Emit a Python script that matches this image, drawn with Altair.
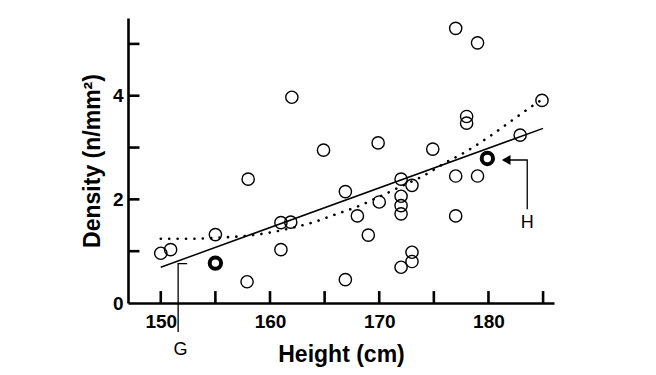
import altair as alt
import pandas as pd

# ---- data ----
heights = [150, 150.9, 155, 157.9, 158, 161, 161, 161.9, 162, 164.9, 166.9, 166.9,
           168, 169, 169.9, 170, 172, 172, 172, 172, 172, 173, 173, 173, 174.9,
           177, 177, 177, 178, 178, 179, 179, 182.9, 184.9]
density = [0.96, 1.03, 1.32, 0.41, 2.39, 1.03, 1.55, 1.56, 3.97, 2.95, 2.15, 0.45,
           1.68, 1.31, 3.09, 1.95, 2.39, 2.06, 1.88, 1.72, 0.69, 2.27, 0.98, 0.80, 2.97,
           5.30, 2.45, 1.68, 3.60, 3.47, 5.02, 2.45, 3.24, 3.91]

bold_x = [155, 179.9]
bold_y = [0.77, 2.79]

linear_x = [150, 185]
linear_y = [0.69, 3.37]

curve_x = [150, 153, 156, 158, 160, 162, 164, 166, 168, 170, 172, 174, 176, 178, 180, 182, 184, 185]
curve_y = [1.24, 1.24, 1.27, 1.30, 1.36, 1.45, 1.56, 1.71, 1.86, 2.05, 2.25, 2.45, 2.70,
           2.93, 3.20, 3.50, 3.80, 3.94]

x_tick_values = [150, 155, 160, 165, 170, 175, 180, 185]
x_tick_labels = [150, 160, 170, 180]
y_tick_values = [1, 2, 3, 4, 5]
y_tick_labels = [0, 2, 4]

g_path_x = [152.42, 151.59, 151.59]
g_path_y = [0.76, 0.76, -0.56]
h_path_x = [181.4, 183.55, 183.55]
h_path_y = [2.76, 2.76, 1.81]
arrow_x = [181.62]
arrow_y = [2.76]
label_text = ["G", "H"]
label_x = [151.81, 183.55]
label_y = [-0.91, 1.55]

FONT = "Liberation Sans"

xscale = alt.Scale(domain=[147, 186], nice=False, zero=False)
yscale = alt.Scale(domain=[0, 5.5], nice=False, zero=False)

xaxis = alt.Axis(values=x_tick_labels, format="d", ticks=False, tickSize=0, grid=False,
                 domainColor="black", domainWidth=2.6, labelFont=FONT, labelFontSize=19,
                 labelFontWeight="bold", labelColor="black", labelPadding=9,
                 title="Height (cm)", titleFont=FONT, titleFontSize=23,
                 titleFontWeight="bold", titleColor="black", titlePadding=12)
yaxis = alt.Axis(values=y_tick_labels, format="d", ticks=False, tickSize=0, grid=False,
                 domainColor="black", domainWidth=2.6, labelFont=FONT, labelFontSize=19,
                 labelFontWeight="bold", labelColor="black", labelPadding=5,
                 title="Density (n/mm²)", titleFont=FONT, titleFontSize=23,
                 titleFontWeight="bold", titleColor="black", titlePadding=8)

X = alt.X("x:Q", scale=xscale, axis=xaxis)
Y = alt.Y("y:Q", scale=yscale, axis=yaxis)

pts = pd.DataFrame({"x": heights, "y": density})
bold = pd.DataFrame({"x": bold_x, "y": bold_y})
lin = pd.DataFrame({"x": linear_x, "y": linear_y})
curve = pd.DataFrame({"x": curve_x, "y": curve_y})
xt = pd.DataFrame({"x": x_tick_values})
yt = pd.DataFrame({"y": y_tick_values})
gpath = pd.DataFrame({"x": g_path_x, "y": g_path_y, "o": [0, 1, 2]})
hpath = pd.DataFrame({"x": h_path_x, "y": h_path_y, "o": [0, 1, 2]})
arrow = pd.DataFrame({"x": arrow_x, "y": arrow_y})
labels = pd.DataFrame({"x": label_x, "y": label_y, "t": label_text})

scatter = alt.Chart(pts).mark_point(shape="circle", filled=False, size=150,
                                    color="black", strokeWidth=1.4, opacity=1).encode(x=X, y=Y)
bold_pts = alt.Chart(bold).mark_point(shape="circle", filled=False, size=130,
                                      color="black", strokeWidth=4, opacity=1).encode(x=X, y=Y)
lin_line = alt.Chart(lin).mark_line(color="black", strokeWidth=1.5).encode(x=X, y=Y)
curve_line = alt.Chart(curve).mark_line(color="black", strokeWidth=2.6, strokeDash=[0.1, 8.3],
                                        strokeCap="round", interpolate="monotone").encode(x=X, y=Y)

xticks = alt.Chart(xt).mark_rule(color="black", strokeWidth=2.6).encode(
    x=X, y=alt.datum(0, scale=yscale), y2=alt.datum(0.23))
yticks = alt.Chart(yt).mark_rule(color="black", strokeWidth=2.6).encode(
    y=Y, x=alt.datum(147, scale=xscale), x2=alt.datum(148.05))

g_line = alt.Chart(gpath).mark_line(color="black", strokeWidth=1.3).encode(x=X, y=Y, order="o:Q")
h_line = alt.Chart(hpath).mark_line(color="black", strokeWidth=1.3).encode(x=X, y=Y, order="o:Q")
arrow_head = alt.Chart(arrow).mark_point(shape="triangle-left", filled=True, size=100,
                                         color="black", opacity=1).encode(x=X, y=Y)
text = alt.Chart(labels).mark_text(font=FONT, fontSize=18, color="black",
                                   baseline="middle", align="center").encode(x=X, y=Y, text="t:N")

chart = alt.layer(lin_line, curve_line, scatter, bold_pts, xticks, yticks,
                  g_line, h_line, arrow_head, text).properties(
    width=426, height=285,
    autosize=alt.AutoSizeParams(type="none"),
    padding={"left": 120, "top": 10, "right": 90, "bottom": 68},
    background="white",
).configure_view(stroke=None)

chart.save("out.html", embed_options={"renderer": "svg", "actions": False})
